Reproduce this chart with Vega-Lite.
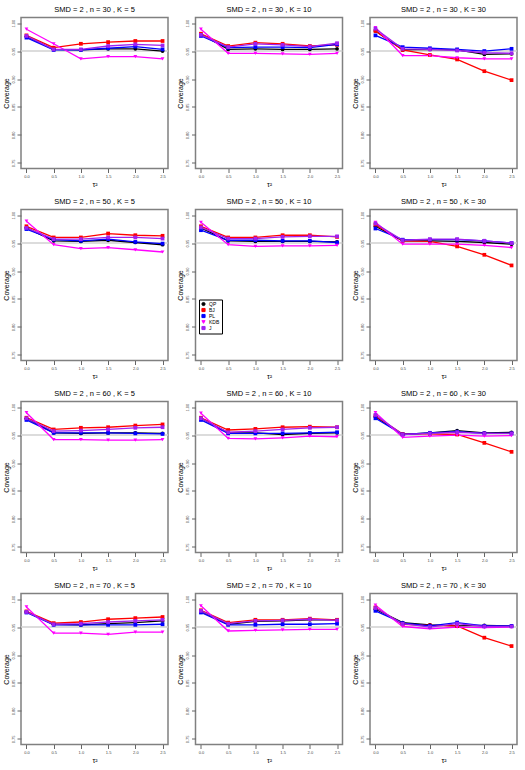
{
  "$schema": "https://vega.github.io/schema/vega-lite/v6.json",
  "padding": {"left": 1, "top": 4.5, "right": 0, "bottom": 0},
  "autosize": {"type": "pad"},
  "background": "white",
  "data": {"values": [
    {"p": "SMD = 2 , n = 30 , K = 5", "t": 0.0, "QP": 0.976, "BJ": 0.978, "PL": 0.974, "KDB": 0.989, "J": 0.977},
    {"p": "SMD = 2 , n = 30 , K = 5", "t": 0.5, "QP": 0.953, "BJ": 0.956, "PL": 0.952, "KDB": 0.963, "J": 0.953},
    {"p": "SMD = 2 , n = 30 , K = 5", "t": 1.0, "QP": 0.952, "BJ": 0.963, "PL": 0.952, "KDB": 0.936, "J": 0.953},
    {"p": "SMD = 2 , n = 30 , K = 5", "t": 1.5, "QP": 0.954, "BJ": 0.966, "PL": 0.955, "KDB": 0.940, "J": 0.959},
    {"p": "SMD = 2 , n = 30 , K = 5", "t": 2.0, "QP": 0.954, "BJ": 0.968, "PL": 0.958, "KDB": 0.940, "J": 0.962},
    {"p": "SMD = 2 , n = 30 , K = 5", "t": 2.5, "QP": 0.950, "BJ": 0.968, "PL": 0.953, "KDB": 0.936, "J": 0.960},
    {"p": "SMD = 2 , n = 30 , K = 10", "t": 0.0, "QP": 0.980, "BJ": 0.981, "PL": 0.977, "KDB": 0.989, "J": 0.979},
    {"p": "SMD = 2 , n = 30 , K = 10", "t": 0.5, "QP": 0.953, "BJ": 0.959, "PL": 0.956, "KDB": 0.946, "J": 0.957},
    {"p": "SMD = 2 , n = 30 , K = 10", "t": 1.0, "QP": 0.954, "BJ": 0.965, "PL": 0.957, "KDB": 0.946, "J": 0.963},
    {"p": "SMD = 2 , n = 30 , K = 10", "t": 1.5, "QP": 0.953, "BJ": 0.963, "PL": 0.957, "KDB": 0.945, "J": 0.961},
    {"p": "SMD = 2 , n = 30 , K = 10", "t": 2.0, "QP": 0.953, "BJ": 0.959, "PL": 0.956, "KDB": 0.944, "J": 0.958},
    {"p": "SMD = 2 , n = 30 , K = 10", "t": 2.5, "QP": 0.954, "BJ": 0.961, "PL": 0.962, "KDB": 0.946, "J": 0.964},
    {"p": "SMD = 2 , n = 30 , K = 30", "t": 0.0, "QP": 0.986, "BJ": 0.986, "PL": 0.978, "KDB": 0.992, "J": 0.990},
    {"p": "SMD = 2 , n = 30 , K = 30", "t": 0.5, "QP": 0.952, "BJ": 0.952, "PL": 0.957, "KDB": 0.942, "J": 0.954},
    {"p": "SMD = 2 , n = 30 , K = 30", "t": 1.0, "QP": 0.953, "BJ": 0.943, "PL": 0.955, "KDB": 0.942, "J": 0.953},
    {"p": "SMD = 2 , n = 30 , K = 30", "t": 1.5, "QP": 0.952, "BJ": 0.935, "PL": 0.953, "KDB": 0.938, "J": 0.951},
    {"p": "SMD = 2 , n = 30 , K = 30", "t": 2.0, "QP": 0.944, "BJ": 0.914, "PL": 0.950, "KDB": 0.936, "J": 0.947},
    {"p": "SMD = 2 , n = 30 , K = 30", "t": 2.5, "QP": 0.945, "BJ": 0.898, "PL": 0.954, "KDB": 0.936, "J": 0.946},
    {"p": "SMD = 2 , n = 50 , K = 5", "t": 0.0, "QP": 0.977, "BJ": 0.980, "PL": 0.975, "KDB": 0.989, "J": 0.977},
    {"p": "SMD = 2 , n = 50 , K = 5", "t": 0.5, "QP": 0.954, "BJ": 0.960, "PL": 0.956, "KDB": 0.947, "J": 0.957},
    {"p": "SMD = 2 , n = 50 , K = 5", "t": 1.0, "QP": 0.953, "BJ": 0.960, "PL": 0.954, "KDB": 0.940, "J": 0.957},
    {"p": "SMD = 2 , n = 50 , K = 5", "t": 1.5, "QP": 0.955, "BJ": 0.967, "PL": 0.957, "KDB": 0.942, "J": 0.960},
    {"p": "SMD = 2 , n = 50 , K = 5", "t": 2.0, "QP": 0.951, "BJ": 0.964, "PL": 0.952, "KDB": 0.938, "J": 0.960},
    {"p": "SMD = 2 , n = 50 , K = 5", "t": 2.5, "QP": 0.947, "BJ": 0.963, "PL": 0.949, "KDB": 0.934, "J": 0.958},
    {"p": "SMD = 2 , n = 50 , K = 10", "t": 0.0, "QP": 0.977, "BJ": 0.980, "PL": 0.973, "KDB": 0.987, "J": 0.978},
    {"p": "SMD = 2 , n = 50 , K = 10", "t": 0.5, "QP": 0.954, "BJ": 0.960, "PL": 0.955, "KDB": 0.947, "J": 0.958},
    {"p": "SMD = 2 , n = 50 , K = 10", "t": 1.0, "QP": 0.953, "BJ": 0.960, "PL": 0.955, "KDB": 0.944, "J": 0.958},
    {"p": "SMD = 2 , n = 50 , K = 10", "t": 1.5, "QP": 0.953, "BJ": 0.964, "PL": 0.954, "KDB": 0.945, "J": 0.961},
    {"p": "SMD = 2 , n = 50 , K = 10", "t": 2.0, "QP": 0.953, "BJ": 0.964, "PL": 0.954, "KDB": 0.945, "J": 0.962},
    {"p": "SMD = 2 , n = 50 , K = 10", "t": 2.5, "QP": 0.952, "BJ": 0.961, "PL": 0.951, "KDB": 0.946, "J": 0.962},
    {"p": "SMD = 2 , n = 50 , K = 30", "t": 0.0, "QP": 0.980, "BJ": 0.983, "PL": 0.976, "KDB": 0.987, "J": 0.985},
    {"p": "SMD = 2 , n = 50 , K = 30", "t": 0.5, "QP": 0.954, "BJ": 0.954, "PL": 0.956, "KDB": 0.948, "J": 0.955},
    {"p": "SMD = 2 , n = 50 , K = 30", "t": 1.0, "QP": 0.954, "BJ": 0.953, "PL": 0.956, "KDB": 0.948, "J": 0.957},
    {"p": "SMD = 2 , n = 50 , K = 30", "t": 1.5, "QP": 0.953, "BJ": 0.944, "PL": 0.956, "KDB": 0.948, "J": 0.957},
    {"p": "SMD = 2 , n = 50 , K = 30", "t": 2.0, "QP": 0.951, "BJ": 0.929, "PL": 0.954, "KDB": 0.946, "J": 0.954},
    {"p": "SMD = 2 , n = 50 , K = 30", "t": 2.5, "QP": 0.948, "BJ": 0.910, "PL": 0.950, "KDB": 0.942, "J": 0.950},
    {"p": "SMD = 2 , n = 60 , K = 5", "t": 0.0, "QP": 0.980, "BJ": 0.981, "PL": 0.977, "KDB": 0.990, "J": 0.980},
    {"p": "SMD = 2 , n = 60 , K = 5", "t": 0.5, "QP": 0.954, "BJ": 0.960, "PL": 0.954, "KDB": 0.942, "J": 0.957},
    {"p": "SMD = 2 , n = 60 , K = 5", "t": 1.0, "QP": 0.953, "BJ": 0.963, "PL": 0.954, "KDB": 0.942, "J": 0.958},
    {"p": "SMD = 2 , n = 60 , K = 5", "t": 1.5, "QP": 0.954, "BJ": 0.964, "PL": 0.954, "KDB": 0.941, "J": 0.960},
    {"p": "SMD = 2 , n = 60 , K = 5", "t": 2.0, "QP": 0.954, "BJ": 0.967, "PL": 0.953, "KDB": 0.941, "J": 0.963},
    {"p": "SMD = 2 , n = 60 , K = 5", "t": 2.5, "QP": 0.953, "BJ": 0.969, "PL": 0.952, "KDB": 0.942, "J": 0.964},
    {"p": "SMD = 2 , n = 60 , K = 10", "t": 0.0, "QP": 0.980, "BJ": 0.981, "PL": 0.977, "KDB": 0.989, "J": 0.980},
    {"p": "SMD = 2 , n = 60 , K = 10", "t": 0.5, "QP": 0.954, "BJ": 0.959, "PL": 0.953, "KDB": 0.944, "J": 0.955},
    {"p": "SMD = 2 , n = 60 , K = 10", "t": 1.0, "QP": 0.954, "BJ": 0.961, "PL": 0.953, "KDB": 0.943, "J": 0.957},
    {"p": "SMD = 2 , n = 60 , K = 10", "t": 1.5, "QP": 0.951, "BJ": 0.964, "PL": 0.953, "KDB": 0.945, "J": 0.960},
    {"p": "SMD = 2 , n = 60 , K = 10", "t": 2.0, "QP": 0.953, "BJ": 0.965, "PL": 0.954, "KDB": 0.948, "J": 0.963},
    {"p": "SMD = 2 , n = 60 , K = 10", "t": 2.5, "QP": 0.954, "BJ": 0.964, "PL": 0.955, "KDB": 0.947, "J": 0.964},
    {"p": "SMD = 2 , n = 60 , K = 30", "t": 0.0, "QP": 0.983, "BJ": 0.984, "PL": 0.980, "KDB": 0.990, "J": 0.986},
    {"p": "SMD = 2 , n = 60 , K = 30", "t": 0.5, "QP": 0.951, "BJ": 0.952, "PL": 0.951, "KDB": 0.946, "J": 0.951},
    {"p": "SMD = 2 , n = 60 , K = 30", "t": 1.0, "QP": 0.954, "BJ": 0.952, "PL": 0.954, "KDB": 0.948, "J": 0.953},
    {"p": "SMD = 2 , n = 60 , K = 30", "t": 1.5, "QP": 0.958, "BJ": 0.951, "PL": 0.956, "KDB": 0.950, "J": 0.955},
    {"p": "SMD = 2 , n = 60 , K = 30", "t": 2.0, "QP": 0.954, "BJ": 0.936, "PL": 0.953, "KDB": 0.948, "J": 0.953},
    {"p": "SMD = 2 , n = 60 , K = 30", "t": 2.5, "QP": 0.955, "BJ": 0.920, "PL": 0.953, "KDB": 0.949, "J": 0.953},
    {"p": "SMD = 2 , n = 70 , K = 5", "t": 0.0, "QP": 0.977, "BJ": 0.978, "PL": 0.976, "KDB": 0.986, "J": 0.977},
    {"p": "SMD = 2 , n = 70 , K = 5", "t": 0.5, "QP": 0.955, "BJ": 0.957, "PL": 0.954, "KDB": 0.939, "J": 0.955},
    {"p": "SMD = 2 , n = 70 , K = 5", "t": 1.0, "QP": 0.954, "BJ": 0.959, "PL": 0.954, "KDB": 0.939, "J": 0.956},
    {"p": "SMD = 2 , n = 70 , K = 5", "t": 1.5, "QP": 0.956, "BJ": 0.964, "PL": 0.954, "KDB": 0.937, "J": 0.959},
    {"p": "SMD = 2 , n = 70 , K = 5", "t": 2.0, "QP": 0.958, "BJ": 0.966, "PL": 0.954, "KDB": 0.941, "J": 0.961},
    {"p": "SMD = 2 , n = 70 , K = 5", "t": 2.5, "QP": 0.961, "BJ": 0.968, "PL": 0.955, "KDB": 0.941, "J": 0.963},
    {"p": "SMD = 2 , n = 70 , K = 10", "t": 0.0, "QP": 0.978, "BJ": 0.980, "PL": 0.976, "KDB": 0.988, "J": 0.979},
    {"p": "SMD = 2 , n = 70 , K = 10", "t": 0.5, "QP": 0.955, "BJ": 0.958, "PL": 0.954, "KDB": 0.943, "J": 0.956},
    {"p": "SMD = 2 , n = 70 , K = 10", "t": 1.0, "QP": 0.960, "BJ": 0.963, "PL": 0.954, "KDB": 0.944, "J": 0.961},
    {"p": "SMD = 2 , n = 70 , K = 10", "t": 1.5, "QP": 0.961, "BJ": 0.963, "PL": 0.955, "KDB": 0.945, "J": 0.962},
    {"p": "SMD = 2 , n = 70 , K = 10", "t": 2.0, "QP": 0.963, "BJ": 0.965, "PL": 0.955, "KDB": 0.946, "J": 0.964},
    {"p": "SMD = 2 , n = 70 , K = 10", "t": 2.5, "QP": 0.963, "BJ": 0.963, "PL": 0.956, "KDB": 0.946, "J": 0.962},
    {"p": "SMD = 2 , n = 70 , K = 30", "t": 0.0, "QP": 0.982, "BJ": 0.985, "PL": 0.979, "KDB": 0.989, "J": 0.984},
    {"p": "SMD = 2 , n = 70 , K = 30", "t": 0.5, "QP": 0.958, "BJ": 0.955, "PL": 0.957, "KDB": 0.951, "J": 0.956},
    {"p": "SMD = 2 , n = 70 , K = 30", "t": 1.0, "QP": 0.954, "BJ": 0.953, "PL": 0.952, "KDB": 0.947, "J": 0.950},
    {"p": "SMD = 2 , n = 70 , K = 30", "t": 1.5, "QP": 0.952, "BJ": 0.952, "PL": 0.958, "KDB": 0.950, "J": 0.956},
    {"p": "SMD = 2 , n = 70 , K = 30", "t": 2.0, "QP": 0.953, "BJ": 0.931, "PL": 0.952, "KDB": 0.949, "J": 0.951},
    {"p": "SMD = 2 , n = 70 , K = 30", "t": 2.5, "QP": 0.952, "BJ": 0.916, "PL": 0.952, "KDB": 0.950, "J": 0.951}
  ]},
  "transform": [{"fold": ["QP", "BJ", "PL", "KDB", "J"], "as": ["method", "coverage"]}],
  "facet": {
    "field": "p", "type": "nominal",
    "sort": ["SMD = 2 , n = 30 , K = 5", "SMD = 2 , n = 30 , K = 10", "SMD = 2 , n = 30 , K = 30",
             "SMD = 2 , n = 50 , K = 5", "SMD = 2 , n = 50 , K = 10", "SMD = 2 , n = 50 , K = 30",
             "SMD = 2 , n = 60 , K = 5", "SMD = 2 , n = 60 , K = 10", "SMD = 2 , n = 60 , K = 30",
             "SMD = 2 , n = 70 , K = 5", "SMD = 2 , n = 70 , K = 10", "SMD = 2 , n = 70 , K = 30"],
    "header": {"title": null, "labelFontSize": 7.5, "labelFont": "Liberation Sans", "labelFontWeight": "normal", "labelPadding": 4, "labelColor": "black"}
  },
  "columns": 3,
  "spacing": {"row": 8, "column": 5.5},
  "resolve": {"axis": {"x": "independent", "y": "independent"}},
  "spec": {
    "width": 147,
    "height": 151,
    "encoding": {
      "x": {"field": "t", "type": "quantitative",
            "scale": {"domain": [-0.1, 2.6], "nice": false, "zero": false},
            "axis": {"values": [0, 0.5, 1, 1.5, 2, 2.5], "tickCount": 6, "format": ".1f", "title": "τ²", "labelOverlap": false, "labelFlush": false, "labelSeparation": 0}},
      "y": {"field": "coverage", "type": "quantitative",
            "scale": {"domain": [0.74, 1.01], "nice": false, "zero": false},
            "axis": {"values": [0.75, 0.8, 0.85, 0.9, 0.95, 1.0], "tickCount": 6, "format": ".2f", "title": "Coverage", "labelAngle": -90, "labelAlign": "center", "labelBaseline": "bottom", "labelOverlap": false, "labelFlush": false, "labelSeparation": 0}}
    },
    "layer": [
      {
        "transform": [{"filter": "datum.t == 0 && datum.method == 'QP'"}],
        "mark": {"type": "rule", "color": "#d0d0d0", "strokeWidth": 1.5},
        "encoding": {"x": null, "y": {"datum": 0.95, "type": "quantitative"}}
      },
      {
        "mark": {"type": "line", "strokeWidth": 1.3},
        "encoding": {
          "color": {"field": "method", "type": "nominal"}
        }
      },
      {
        "mark": {"type": "point", "filled": true, "size": 14, "opacity": 1},
        "encoding": {
          "color": {"field": "method", "type": "nominal",
                    "scale": {"domain": ["QP", "BJ", "PL", "KDB", "J"], "range": ["#000000", "#FF0000", "#0000FF", "#FF00FF", "#A020F0"]},
                    "legend": {"orient": "none", "legendX": 178, "legendY": 282, "title": null}},
          "shape": {"field": "method", "type": "nominal",
                    "scale": {"domain": ["QP", "BJ", "PL", "KDB", "J"], "range": ["circle", "square", "square", "triangle-down", "square"]},
                    "legend": {"orient": "none", "legendX": 178, "legendY": 282, "title": null}}
        }
      }
    ]
  },
  "config": {
    "font": "Liberation Sans",
    "view": {"stroke": "#808080", "strokeWidth": 1.5},
    "legend": {"strokeColor": "black", "fillColor": "white", "padding": 2, "labelFontSize": 5, "symbolSize": 10, "rowPadding": 0, "clipHeight": 5, "labelFont": "Liberation Sans", "labelOffset": 3, "symbolStrokeWidth": 1},
    "axis": {
      "grid": false, "domain": false, "tickColor": "#666666", "tickSize": 4,
      "labelFontSize": 4, "labelColor": "#444444", "labelPadding": 2, "labelOverlap": false, "labelFlush": false,
      "titleFontSize": 7, "titleFontWeight": "normal", "titleColor": "black", "titlePadding": 2
    }
  }
}
